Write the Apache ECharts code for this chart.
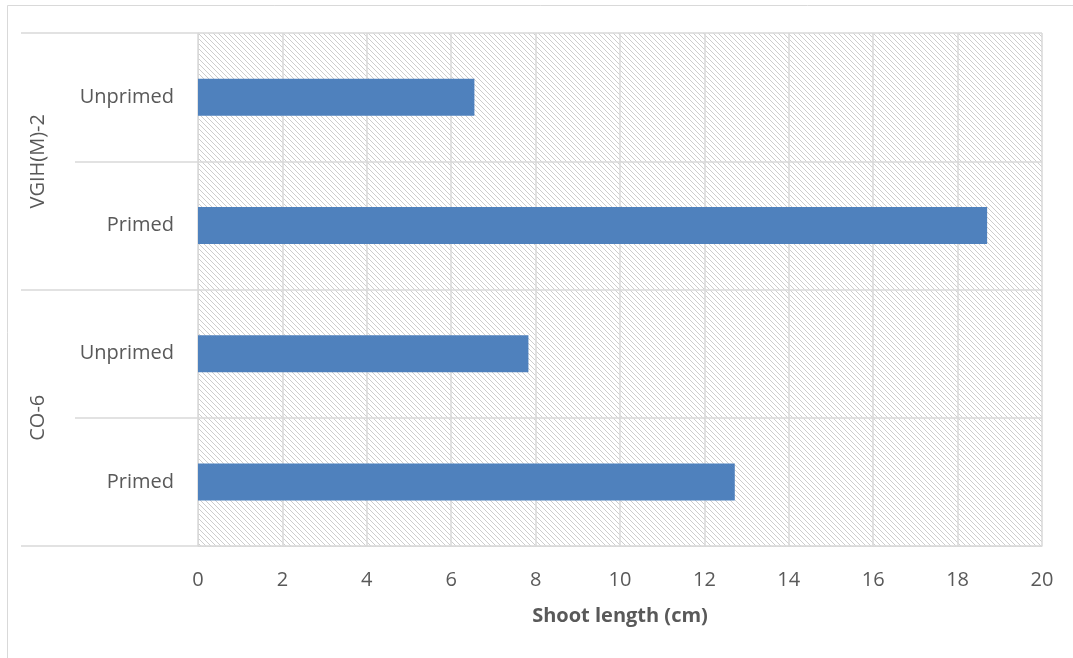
<!DOCTYPE html>
<html>
<head>
<meta charset="utf-8">
<script src="https://cdn.jsdelivr.net/npm/echarts@6/dist/echarts.min.js"></script>
<style>
  html, body { margin: 0; padding: 0; background: #ffffff; overflow: hidden; }
  #chart { width: 1073px; height: 658px; }
</style>
</head>
<body>
<div id="chart"></div>
<script>
// Treatments per cultivar, listed bottom to top
const treatments = ['Primed', 'Unprimed', 'Primed', 'Unprimed'];
const cultivars = ['CO-6', 'VGIH(M)-2'];
// Shoot length (cm) for each treatment, same order as above
const shootLength = [12.72, 7.83, 18.7, 6.55];
const xTicks = { min: 0, max: 20, interval: 2 };

const textColor = '#595959';
const lineColor = '#d9d9d9';
const fontFamily = '"Open Sans", "Liberation Sans", sans-serif';

// Light downward-diagonal hatch used as the plot-area fill
function hatchPattern() {
  const c = document.createElement('canvas');
  c.width = 5; c.height = 5;
  const ctx = c.getContext('2d');
  ctx.fillStyle = '#ffffff';
  ctx.fillRect(0, 0, 5, 5);
  ctx.fillStyle = '#cdcdcd';
  for (let i = 0; i < 5; i++) ctx.fillRect(i, i, 1, 1);
  return { image: c, repeat: 'repeat' };
}

const chart = echarts.init(document.getElementById('chart'), null, { renderer: 'canvas' });

chart.setOption({
  animation: false,
  backgroundColor: '#ffffff',
  graphic: [{
    type: 'rect',
    shape: { x: 7.5, y: 5.5, width: 1200, height: 800 },
    style: { fill: 'none', stroke: lineColor, lineWidth: 1 },
    silent: true,
    z: -10
  }],
  grid: {
    left: 198, right: 31, top: 33, bottom: 112,
    show: true,
    backgroundColor: hatchPattern(),
    borderWidth: 0
  },
  xAxis: {
    type: 'value',
    min: xTicks.min, max: xTicks.max, interval: xTicks.interval,
    name: 'Shoot length (cm)',
    nameLocation: 'middle',
    nameGap: 60,
    nameTextStyle: { color: textColor, fontSize: 20, fontWeight: 'bold', fontFamily },
    axisLine: { show: true, lineStyle: { color: lineColor, width: 1 } },
    axisTick: { show: false },
    axisLabel: { color: textColor, fontSize: 20, fontFamily, margin: 24 },
    splitLine: { show: true, lineStyle: { color: lineColor, width: 1.5 } }
  },
  yAxis: [{
    type: 'category',
    data: treatments,
    boundaryGap: true,
    axisLine: { show: true, lineStyle: { color: lineColor, width: 1 } },
    axisTick: { show: true, length: 123, lineStyle: { color: lineColor, width: 1.5 } },
    axisLabel: { color: textColor, fontSize: 20, fontFamily, margin: 24 },
    splitLine: { show: true, lineStyle: { color: lineColor, width: 1.5 } }
  }, {
    type: 'category',
    data: cultivars,
    position: 'left',
    boundaryGap: true,
    axisLine: { show: false },
    axisTick: { show: true, length: 177, lineStyle: { color: lineColor, width: 1.5 } },
    axisLabel: { color: textColor, fontSize: 20, fontFamily, rotate: 90, margin: 150 },
    splitLine: { show: false }
  }],
  series: [{
    type: 'bar',
    data: shootLength,
    yAxisIndex: 0,
    barWidth: 37,
    itemStyle: { color: '#4f81bd' }
  }]
});
</script>
</body>
</html>
